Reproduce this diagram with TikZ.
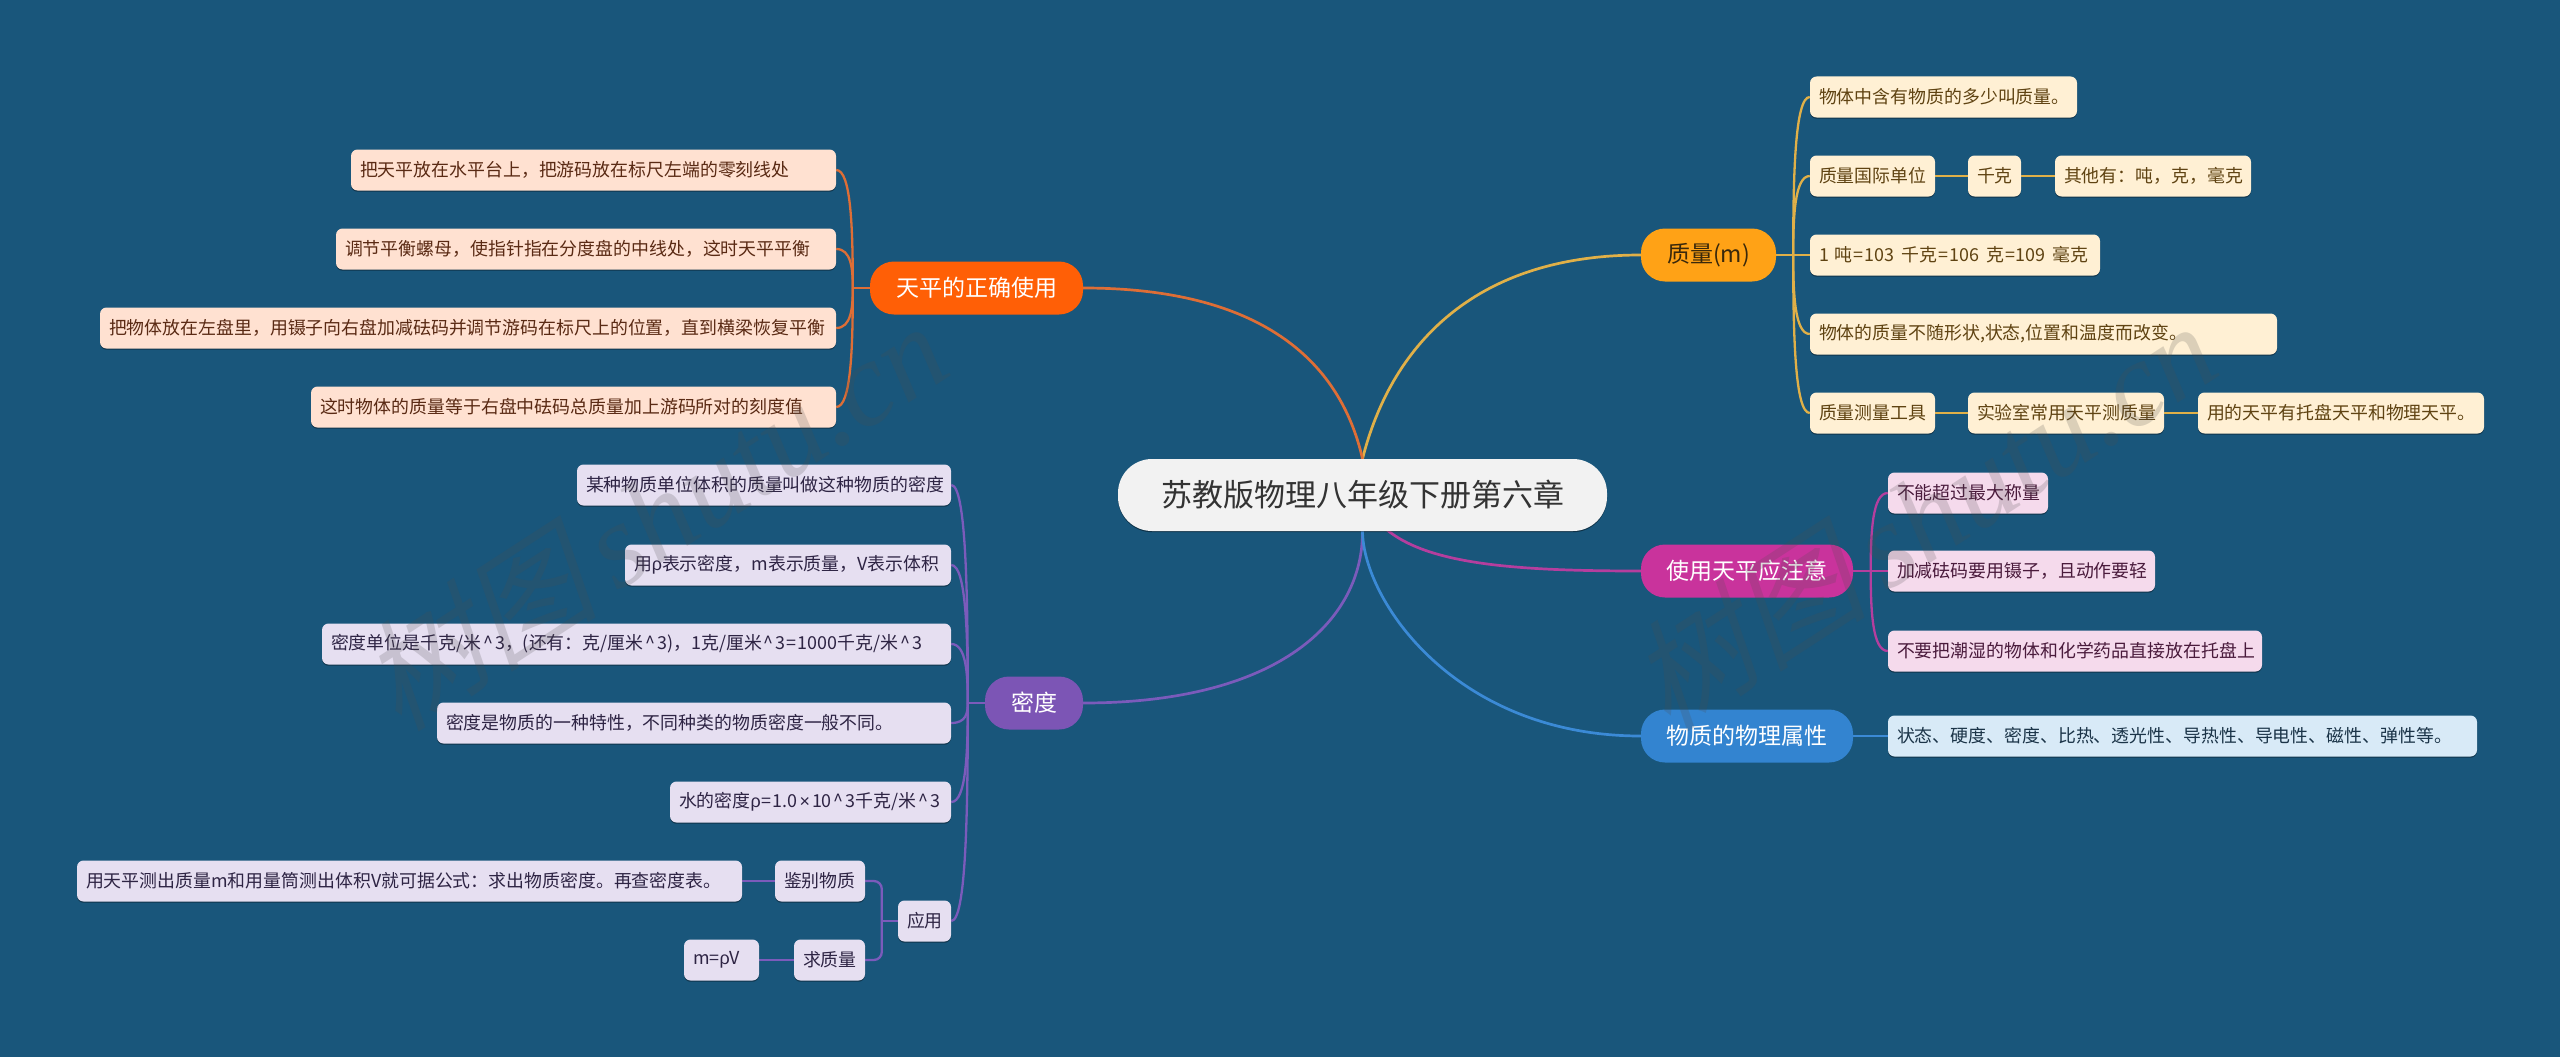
\documentclass[tikz,border=0pt]{standalone}
\usepackage{fontspec}
\setmainfont{Noto Sans CJK SC}
\newfontfamily\wmcjk[FakeSlant=0.25]{Noto Sans CJK SC}
\newfontfamily\wmlat{Liberation Serif}
\newfontfamily\narrowsym{Liberation Sans}
\usetikzlibrary{shadows,calc}
\definecolor{bgc}{HTML}{19567B}
\definecolor{orc}{HTML}{FF5F06}\definecolor{orl}{HTML}{FFE1D1}\definecolor{ort}{HTML}{5A2A14}\definecolor{orb}{HTML}{DE6E36}
\definecolor{yec}{HTML}{FFA216}\definecolor{yel}{HTML}{FFF0D4}\definecolor{yet}{HTML}{5F4312}\definecolor{yeb}{HTML}{E0B048}
\definecolor{mac}{HTML}{C9339C}\definecolor{mal}{HTML}{F5DAEC}\definecolor{mat}{HTML}{4A1B3C}\definecolor{mab}{HTML}{B53E9E}
\definecolor{blc}{HTML}{3384D0}\definecolor{bll}{HTML}{D8EAF7}\definecolor{blt}{HTML}{1B3448}\definecolor{blb}{HTML}{3B8AD6}
\definecolor{puc}{HTML}{7C55B5}\definecolor{pul}{HTML}{E6DFF1}\definecolor{put}{HTML}{2E2444}\definecolor{pub}{HTML}{7B5BBB}
\pgfdeclarelayer{bottom}\pgfdeclarelayer{edges}\pgfdeclarelayer{marks}
\pgfsetlayers{bottom,edges,main,marks}
\tikzset{
  leafbox/.style={rectangle,rounded corners=6.5pt,inner xsep=9pt,inner ysep=0pt,minimum height=41pt,
    font=\fontsize{17.9pt}{20pt}\selectfont,anchor=center,
    drop shadow={shadow xshift=0pt,shadow yshift=-1.2pt,opacity=.4,fill=black}},
  ORL/.style={fill=orl,text=ort}, YEL/.style={fill=yel,text=yet}, MAL/.style={fill=mal,text=mat},
  BLL/.style={fill=bll,text=blt}, PUL/.style={fill=pul,text=put},
  mainbox/.style={rectangle,rounded corners=24pt,inner sep=0pt,minimum height=53pt,text=white,
    font=\fontsize{23pt}{26pt}\selectfont},
  rootbox/.style={rectangle,rounded corners=34pt,inner sep=0pt,minimum width=489pt,minimum height=72pt,
    fill=white!95!black,text=black!80,font=\fontsize{31pt}{36pt}\selectfont,
    drop shadow={shadow xshift=0pt,shadow yshift=-1.2pt,opacity=.4,fill=black}},
  trunk/.style={line width=2.7pt},
  twig/.style={line width=2.3pt},
  watermark/.style={text=black!70,opacity=.2,rotate=33,inner sep=0pt},
}
\newcommand\rh{{\narrowsym ρ}}
\newcommand\tms{\hspace{2pt}{\narrowsym ×}\hspace{2pt}}
\newcommand\crt{\hspace{2pt}\textasciicircum\hspace{2pt}}
\newcommand\eql{\hspace{1pt}=\hspace{1pt}}
\newcommand\lf[6][]{%
  \pgfmathsetmacro\lfw{#4-#3}\pgfmathsetmacro\lfc{(#3+#4)/2}%
  \node[leafbox,#1,minimum width=\lfw pt] (#2) at (\lfc,#5) {\raisebox{-1.5pt}{\makebox[\dimexpr\lfw pt-18pt\relax][l]{#6}}};%
}
\newcommand\twigs[4]{%
  \foreach \n in {#4}{
    \draw[twig,#1] (#2) .. controls ($(#2)!0.5!(#2 |- \n)$) and ($(#2 |- \n)!0.1!(\n.#3)$) .. (\n.#3);
  }
}
\begin{document}
\begin{tikzpicture}[x=1pt,y=-1pt]
\useasboundingbox (0,0) rectangle (2560,1057);
\begin{pgfonlayer}{bottom}
\fill[bgc] (0,0) rectangle (2560,1057);
\end{pgfonlayer}

\node[rootbox] (root) at (1362.5,495) {苏教版物理八年级下册第六章};

\node[mainbox,fill=yec,text=yet!60!black,minimum width=135pt] (mass) at (1708.5,255) {质量(m)};
\node[mainbox,fill=mac,minimum width=212pt] (care) at (1747,571) {使用天平应注意};
\node[mainbox,fill=blc,minimum width=212pt] (prop) at (1747,736) {物质的物理属性};
\node[mainbox,fill=orc,minimum width=213pt] (use) at (976.5,288) {天平的正确使用};
\node[mainbox,fill=puc,minimum width=98pt] (dens) at (1034,703) {密度};

% mass
\lf[YEL]{ma}{1810}{2077}{97}{物体中含有物质的多少叫质量。}
\lf[YEL]{mb}{1810}{1935}{176}{质量国际单位}
\lf[YEL]{mbb}{1968}{2021}{176}{千克}
\lf[YEL]{mbc}{2055}{2251}{176}{其他有：吨，克，毫克}
\lf[YEL]{mc}{1810}{2100}{255}{1\hspace{6pt}吨\eql 103\hspace{7pt}千克\eql 106\hspace{7pt}克\eql 109\hspace{7pt}毫克}
\lf[YEL]{md}{1810}{2277}{334}{物体的质量不随形状,状态,位置和温度而改变。}
\lf[YEL]{me}{1810}{1935}{413}{质量测量工具}
\lf[YEL]{meb}{1968}{2164}{413}{实验室常用天平测质量}
\lf[YEL]{mec}{2198}{2484}{413}{用的天平有托盘天平和物理天平。}
% care
\lf[MAL]{ca}{1888}{2048}{493}{不能超过最大称量}
\lf[MAL]{cb}{1888}{2155}{571}{加减砝码要用镊子，且动作要轻}
\lf[MAL]{cc}{1888}{2262}{651}{不要把潮湿的物体和化学药品直接放在托盘上}
% prop
\lf[BLL]{pa}{1888}{2477}{736}{状态、硬度、密度、比热、透光性、导热性、导电性、磁性、弹性等。}
% use
\lf[ORL]{ua}{351}{836}{170}{把天平放在水平台上，把游码放在标尺左端的零刻线处}
\lf[ORL]{ub}{336}{836}{249}{调节平衡螺母，使指针指在分度盘的中线处，这时天平平衡}
\lf[ORL]{uc}{100}{836}{328}{把物体放在左盘里，用镊子向右盘加减砝码并调节游码在标尺上的位置，直到横梁恢复平衡}
\lf[ORL]{ud}{311}{836}{407}{这时物体的质量等于右盘中砝码总质量加上游码所对的刻度值}
% density
\lf[PUL]{da}{577}{951}{485}{某种物质单位体积的质量叫做这种物质的密度}
\lf[PUL]{db}{625}{951}{565}{用\rh 表示密度，m表示质量，V表示体积}
\lf[PUL]{dc}{322}{951}{644}{密度单位是千克/米\crt 3，(还有：克/厘米\crt 3)，1克/厘米\crt 3\eql 1000千克/米\crt 3}
\lf[PUL]{dd}{437}{951}{723}{密度是物质的一种特性，不同种类的物质密度一般不同。}
\lf[PUL]{de}{670}{951}{802}{水的密度\rh\eql 1.0\tms 10\crt 3千克/米\crt 3}
\lf[PUL]{df}{898}{951}{921}{应用}
\lf[PUL]{dg}{775}{865}{881}{鉴别物质}
\lf[PUL]{dh}{77}{742}{881}{用天平测出质量m和用量筒测出体积V就可据公式：求出物质密度。再查密度表。}
\lf[PUL]{di}{794}{865}{960}{求质量}
\lf[PUL]{dj}{684}{759}{960}{m=\rh V}

\coordinate (jm) at ($(mass.east)+(17,0)$);
\coordinate (jc) at ($(care.east)+(17.5,0)$);
\coordinate (ju) at ($(use.west)+(-17,0)$);
\coordinate (jd) at ($(dens.west)+(-17,0)$);
\coordinate (ji) at ($(df.west)+(-16,0)$);

\begin{pgfonlayer}{edges}
\draw[trunk,yeb] (root.north) .. controls (1390,350) and (1470,255) .. (mass.west);
\draw[trunk,orb] (root.north) .. controls (1340,360) and (1260,288) .. (use.east);
\draw[trunk,pub] (root.south) .. controls (1363,620) and (1280,703) .. (dens.east);
\draw[trunk,blb] (root.south) .. controls (1363,600) and (1455,736) .. (prop.west);
\draw[trunk,mab] (root.center) .. controls (1385,560) and (1480,571) .. (care.west);

\draw[trunk,yeb] (mass.east) -- (jm);
\draw[trunk,mab] (care.east) -- (jc);
\draw[trunk,orb] (use.west) -- (ju);
\draw[trunk,pub] (dens.west) -- (jd);
\twigs{yeb}{jm}{west}{ma,mb,mc,md,me}
\twigs{mab}{jc}{west}{ca,cb,cc}
\twigs{orb}{ju}{east}{ua,ub,uc,ud}
\twigs{pub}{jd}{east}{da,db,dc,dd,de,df}

\draw[trunk,blb] (prop.east) -- (pa.west);
\draw[trunk,yeb] (mb.east) -- (mbb.west);
\draw[trunk,yeb] (mbb.east) -- (mbc.west);
\draw[trunk,yeb] (me.east) -- (meb.west);
\draw[trunk,yeb] (meb.east) -- (mec.west);
\draw[trunk,pub] (dg.west) -- (dh.east);
\draw[trunk,pub] (di.west) -- (dj.east);
\draw[trunk,pub] (df.west) -- (ji);
\draw[twig,pub,rounded corners=8pt] (dg.east) -| (ji) |- (di.east);
\end{pgfonlayer}

\begin{pgfonlayer}{marks}
\node[watermark] (wa) at (653,515) {\fontsize{120pt}{130pt}\selectfont\wmcjk 树图\,\wmlat\itshape shutu.cn};
\node[watermark] (wb) at (1922,515) {\fontsize{120pt}{130pt}\selectfont\wmcjk 树图\,\wmlat\itshape shutu.cn};
\end{pgfonlayer}
\end{tikzpicture}
\end{document}
